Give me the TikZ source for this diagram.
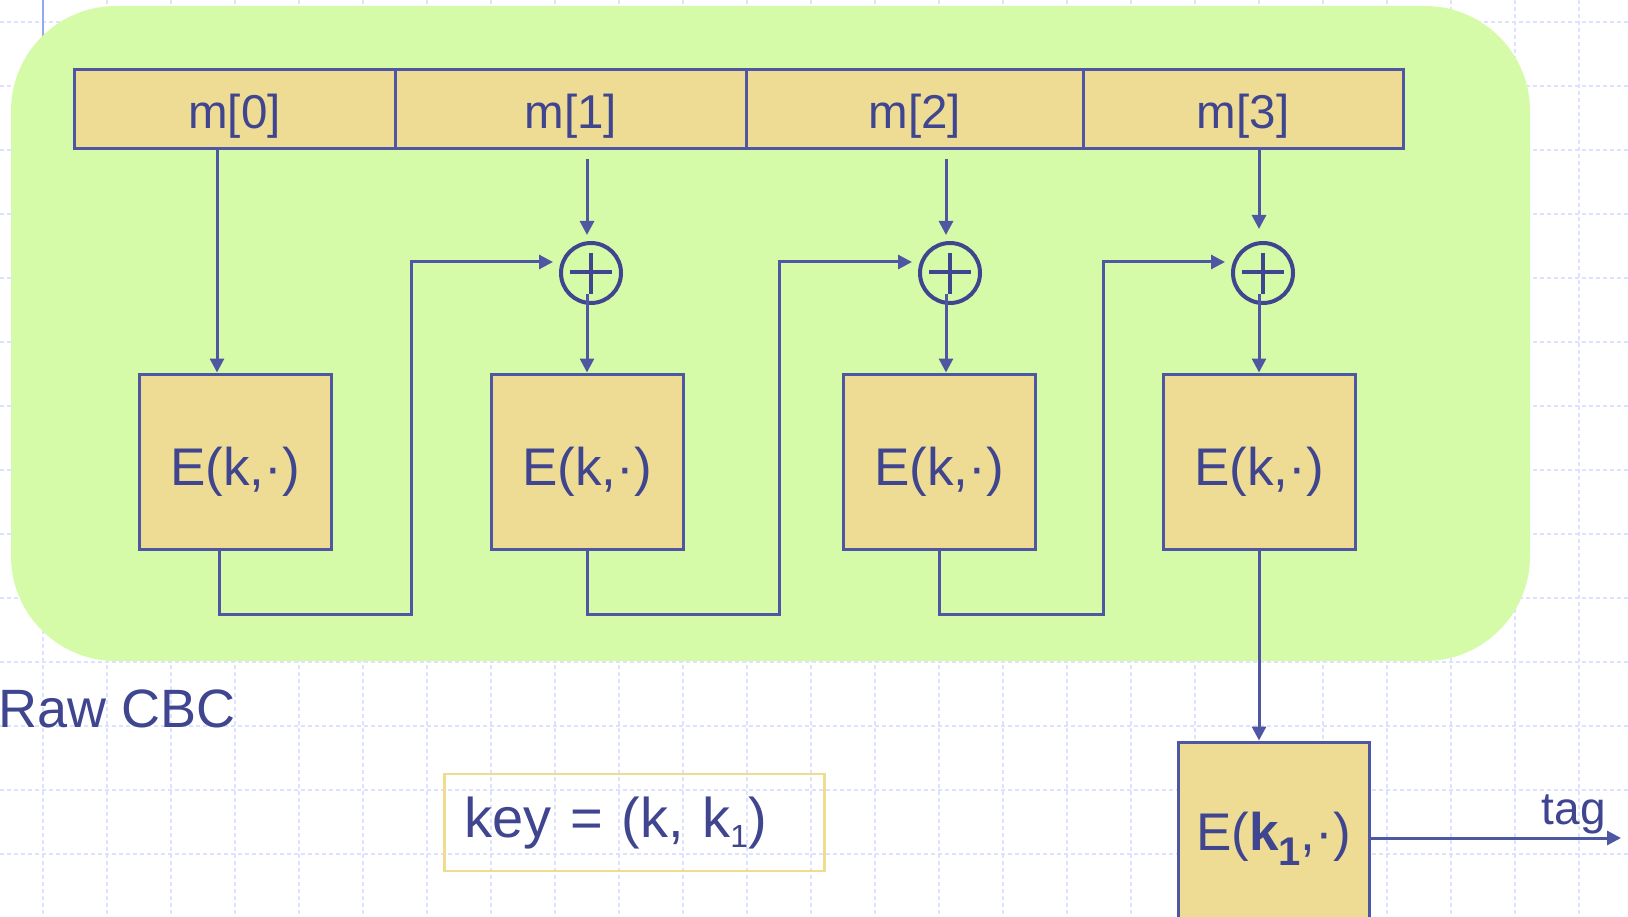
\documentclass[tikz,border=0pt]{standalone}
\usepackage{fontspec}
\setmainfont{Liberation Sans}
\usetikzlibrary{arrows.meta,calc}
\definecolor{bggreen}{HTML}{D6FBA8}
\definecolor{boxtan}{HTML}{EEDC94}
\definecolor{lc}{HTML}{4F57A3}
\definecolor{tc}{HTML}{3F458F}
\definecolor{gridc}{HTML}{DBE3FF}
\definecolor{keyc}{HTML}{EEDC8F}
\definecolor{tmpl}{HTML}{8FA9F5}
\begin{document}
\begin{tikzpicture}[x=1pt,y=-1pt,
  gridline/.style={gridc,line width=1.5pt,dash pattern=on 4pt off 3pt},
  mbox/.style={draw=lc,fill=boxtan,line width=3pt,minimum height=79pt,inner sep=0pt,
    text=tc,font=\fontsize{47.5pt}{50pt}\selectfont,text height=38pt,text depth=0pt},
  ebox/.style={draw=lc,fill=boxtan,line width=3pt,minimum width=192pt,minimum height=175pt,
    inner sep=0pt,text=tc,font=\fontsize{53pt}{58pt}\selectfont,text height=47pt,text depth=0pt},
  xor/.style={circle,draw=tc,line width=4pt,minimum size=60pt,inner sep=0pt},
  xorbar/.style={tc,line width=4pt},
  wire/.style={lc,line width=3pt},
  arr/.style={wire,-{Triangle[length=14pt,width=14pt]}},
  lbl/.style={text=tc,inner sep=0pt}
]
\useasboundingbox (0,0) rectangle (1628,917);
\clip (0,0) rectangle (1628,917);
\fill[white] (0,0) rectangle (1628,917);
% background grid
\foreach \x in {43,107,...,1579} \draw[gridline] (\x,0) -- (\x,917);
\foreach \y in {22,86,...,854} \draw[gridline] (0,\y) -- (1628,\y);
\draw[tmpl,line width=2.5pt] (43,0) -- (43,40);
% green panel
\fill[bggreen,rounded corners=105pt] (11,6) rectangle (1530,661);
% message blocks
\node[mbox,minimum width=321pt]   (m0) at (234.5,109.5)  {m[0]};
\node[mbox,minimum width=351.5pt] (m1) at (570.75,109.5) {m[1]};
\node[mbox,minimum width=336.5pt] (m2) at (914.75,109.5) {m[2]};
\node[mbox,minimum width=320pt]   (m3) at (1243,109.5)   {m[3]};
% cipher boxes
\node[ebox] (e1) at (235,461.5)  {E(k,·)};
\node[ebox] (e2) at (587,461.5)  {E(k,·)};
\node[ebox] (e3) at (939,461.5)  {E(k,·)};
\node[ebox] (e4) at (1259,461.5) {E(k,·)};
\node[ebox,minimum width=191pt,minimum height=190pt,text height=40pt,text depth=14pt] (f) at (1273.5,837)
  {E(\textbf{k}\raisebox{-15pt}{\fontsize{40pt}{40pt}\selectfont\bfseries 1},·)};
% xor nodes
\node[xor] (x1) at (591,273) {};
\node[xor] (x2) at (950,273) {};
\node[xor] (x3) at (1263,273) {};
\foreach \n in {x1,x2,x3}{
  \draw[xorbar] ($(\n.center)+(-21,-1)$) -- ($(\n.center)+(21,-1)$);
  \draw[xorbar] ($(\n.center)+(0,-20)$) -- ($(\n.center)+(0,21)$);
}
% connectors
\draw[arr] ($(e1.north |- m0.south)+(-18,0)$) -- ($(e1.north)+(-18,0)$);
\draw[arr] ($(e2.north |- m1.south)+(0,9)$) -- ($(e2.north |- x1.north)+(0,-6)$);
\draw[arr] ($(x1.center)+(-4,21)$) -- (e2.north);
\draw[arr] ($(x2.center |- m2.south)+(-4,9)$) -- ($(x2.north)+(-4,-6)$);
\draw[arr] ($(x2.center)+(-4,21)$) -- ($(x2.center |- e3.north)+(-4,0)$);
\draw[arr] (e4.north |- m3.south) -- ($(e4.north |- x3.north)+(0,-12)$);
\draw[arr] ($(x3.center)+(-4,21)$) -- (e4.north);
\draw[arr] ($(e1.south)+(-16,0)$) |- (411,614) |- ($(x1.west)+(-6,-11)$);
\draw[arr] (e2.south) |- (779,614) |- ($(x2.west)+(-6,-11)$);
\draw[arr] (e3.south) |- (1103,614) |- ($(x3.west)+(-6,-11)$);
\draw[arr] (e4.south) -- (e4.south |- f.north);
\coordinate (tagend) at (1621,838);
\draw[arr] (f.east |- tagend) -- (tagend);
% labels
\node[lbl,anchor=base east,font=\fontsize{46pt}{50pt}\selectfont] (tag) at (1606,824) {tag};
\node[lbl,anchor=base west,font=\fontsize{54pt}{58pt}\selectfont] (raw) at (-2,727) {Raw CBC};
\node[draw=keyc,line width=2.5pt,text=tc,anchor=west,minimum height=97pt,text width=340pt,
  inner xsep=20pt,inner ysep=0pt,align=left,font=\fontsize{56pt}{60pt}\selectfont,
  text height=41pt,text depth=12pt] (key) at (443,822.5)
  {key = (k, k\raisebox{-10pt}{\fontsize{32pt}{32pt}\selectfont 1})};
\end{tikzpicture}
\end{document}
